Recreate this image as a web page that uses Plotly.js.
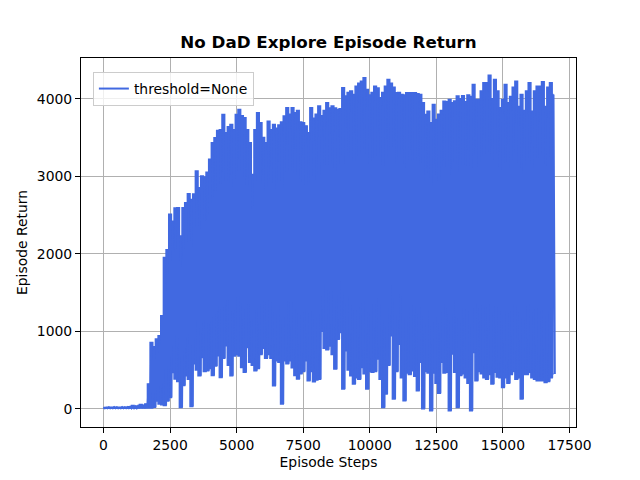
<!DOCTYPE html>
<html>
<head>
<meta charset="utf-8">
<script src="https://cdn.plot.ly/plotly-3.0.1.min.js"></script>
<style>html,body{margin:0;padding:0;background:#fff;}#chart{width:640px;height:480px;}</style>
</head>
<body>
<div id="chart"></div>
<script>
// Sampling interval (episode steps) of the envelope readings
const sampleStep = 100;

// Upper envelope of episode return, one reading per 100 steps (0 .. 16900)
const upperReturn = [
  15,15,18,15,20,18,15,20,18,20,
  25,40,30,35,55,45,60,320,855,800,
  900,940,1200,1950,2050,2510,2420,2590,2594,2230,
  2594,2659,2775,2700,2770,3067,2852,3003,2990,3050,
  3218,3432,3497,3591,3600,3797,3560,3640,3668,3600,
  3797,3862,3780,3754,3600,3432,3024,3600,3818,3689,
  3500,3432,3711,3600,3668,3620,3660,3700,3776,3883,
  3800,3883,3820,3850,3700,3690,3650,3561,3883,3750,
  3800,3905,3780,3850,3947,3880,3905,3880,3860,3870,
  4141,4034,4080,4100,4055,4162,4200,4227,4270,4120,
  4050,4080,4162,4140,4012,4080,4162,4248,4200,4150,
  4076,4080,4055,4050,4076,4076,4076,4076,4065,4055,
  3950,3797,3840,3690,3926,3733,3800,3850,3969,3960,
  3990,3950,3970,4034,4000,4040,3960,4050,4030,4184,
  3990,3990,4100,4205,4205,4304,4000,4248,4100,3883,
  3990,4184,3950,4030,4150,4227,3900,4055,3850,4100,
  4205,3840,4100,4162,4162,4218,3900,4150,4205,4055
];

// Lower envelope of episode return, one reading per 100 steps (0 .. 16900)
const lowerReturn = [
  5,5,6,5,6,5,5,6,5,6,
  6,8,6,8,10,8,10,10,10,20,
  100,60,50,40,100,146,468,382,350,17,
  300,425,380,30,580,500,425,661,480,490,
  520,430,550,683,404,650,812,560,425,680,
  700,680,533,470,790,600,560,490,520,700,
  780,650,700,650,296,620,600,60,620,580,
  620,530,430,382,450,480,620,360,480,347,
  370,380,1000,780,760,810,700,511,898,984,
  254,747,500,425,318,400,380,533,450,254,
  480,470,480,640,380,17,189,560,941,125,
  480,833,400,104,460,440,490,420,232,600,
  0,480,460,-26,460,330,200,600,460,470,
  -26,705,470,17,430,450,400,330,-26,726,
  361,480,450,400,380,440,318,470,410,400,
  275,400,330,440,480,380,400,125,440,440,
  470,400,380,361,361,361,339,350,400,447
];

const xTickVals = [0, 2500, 5000, 7500, 10000, 12500, 15000, 17500];
const yTickVals = [0, 1000, 2000, 3000, 4000];

const blue = '#4169E1';

// Sample positions
const steps = upperReturn.map((_, k) => k * sampleStep);

// Alternating high/low line from the readings
const xs = [], ys = [];
for (let k = 0; k < upperReturn.length; k++) {
  xs.push(steps[k]);
  ys.push(upperReturn[k]);
  xs.push(steps[k] + sampleStep / 2);
  ys.push(lowerReturn[k]);
}

const font = 'DejaVu Sans, Liberation Sans, sans-serif';

const traces = [
  {x: steps, y: lowerReturn, type: 'scatter', mode: 'lines', showlegend: false, hoverinfo: 'skip',
   line: {color: blue, width: 1.5, shape: 'hvh', simplify: false}},
  {x: steps, y: upperReturn, type: 'scatter', mode: 'lines', showlegend: false, hoverinfo: 'skip',
   fill: 'tonexty', fillcolor: blue,
   line: {color: blue, width: 1.5, shape: 'hvh', simplify: false}},
  {x: xs, y: ys, type: 'scatter', mode: 'lines', name: 'threshold=None',
   line: {color: blue, width: 2, simplify: false}}
];

const axisCommon = {
  showline: true, linecolor: '#000', linewidth: 1, mirror: true,
  ticks: 'outside', ticklen: 5, tickwidth: 1, tickcolor: '#000',
  showgrid: true, gridcolor: '#b0b0b0', gridwidth: 1,
  zeroline: false, tickformat: 'd',
  tickfont: {family: font, size: 13.9, color: '#000'}
};

const layout = {
  width: 640, height: 480,
  paper_bgcolor: '#fff', plot_bgcolor: '#fff',
  margin: {l: 81, r: 64, t: 58, b: 53},
  title: {text: '<b>No DaD Explore Episode Return</b>', font: {family: font, size: 16.7, color: '#000'},
          x: 0.5, xref: 'paper', xanchor: 'center', y: 0.912, yref: 'container', yanchor: 'middle'},
  xaxis: Object.assign({}, axisCommon, {
    range: [-845, 17745], tickvals: xTickVals,
    title: {text: 'Episode Steps', font: {family: font, size: 13.9, color: '#000'}, standoff: 5}
  }),
  yaxis: Object.assign({}, axisCommon, {
    range: [-236, 4526], tickvals: yTickVals,
    title: {text: 'Episode Return', font: {family: font, size: 13.9, color: '#000'}, standoff: 5}
  }),
  showlegend: true,
  legend: {x: 0.024, y: 0.962, xanchor: 'left', yanchor: 'top',
           bgcolor: 'rgba(255,255,255,0.8)', bordercolor: '#cccccc', borderwidth: 1,
           font: {family: font, size: 13.9, color: '#000'}}
};

Plotly.newPlot('chart', traces, layout, {displayModeBar: false, staticPlot: true});
</script>
</body>
</html>
